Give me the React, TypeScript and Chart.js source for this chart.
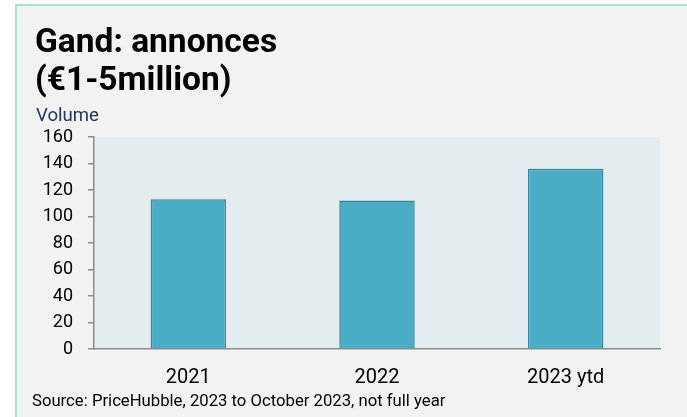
import React, { useEffect, useRef } from "react";
import { Chart, registerables } from "chart.js";

Chart.register(...registerables);

const categories = ["2021", "2022", "2023 ytd"];
const volumes = [113, 112, 136];
const yTicks = [0, 20, 40, 60, 80, 100, 120, 140, 160];
const titleLines = ["Gand: annonces", "(€1-5million)"];
const axisLabel = "Volume";
const sourceText = "Source: PriceHubble, 2023 to October 2023, not full year";

const W = 687;
const H = 417;

const framePlugin = {
  id: "frame",
  beforeDraw(chart: any) {
    const { ctx, chartArea } = chart;
    ctx.save();
    ctx.fillStyle = "#ffffff";
    ctx.fillRect(0, 0, W, H);
    ctx.fillStyle = "#f2f2f2";
    ctx.fillRect(15, 4, W - 15, H - 4);
    ctx.fillStyle = "#a6e0cf";
    ctx.fillRect(15, 4, W - 15, 2);
    ctx.fillRect(15, 4, 2, H - 4);
    ctx.fillStyle = "#e3ecee";
    ctx.fillRect(chartArea.left, chartArea.top, chartArea.right - chartArea.left, chartArea.bottom - chartArea.top);
    ctx.restore();
  },
  afterDraw(chart: any) {
    const { ctx } = chart;
    ctx.save();
    ctx.textAlign = "left";
    ctx.textBaseline = "alphabetic";
    ctx.fillStyle = "#000000";
    ctx.font = "bold 33.5px Roboto";
    (ctx as any).letterSpacing = "0px";
    ctx.fillText(titleLines[0], 35, 52);
    ctx.fillText(titleLines[1], 35, 90);
    ctx.font = "18.6px Roboto";
    ctx.fillStyle = "#1f3864";
    ctx.fillText(axisLabel, 36, 121);
    ctx.font = "16.7px Roboto";
    ctx.fillStyle = "#000000";
    ctx.fillText(sourceText, 32, 406);
    ctx.restore();
  },
};

export default function App() {
  const ref = useRef<HTMLCanvasElement | null>(null);
  useEffect(() => {
    if (!ref.current) return;
    const chart = new Chart(ref.current, {
      type: "bar",
      data: {
        labels: categories,
        datasets: [
          {
            data: volumes,
            backgroundColor: "#4bacc6",
            borderColor: "#37869e",
            borderWidth: 1.5,
            barPercentage: 0.4,
            categoryPercentage: 1,
          },
        ],
      },
      options: {
        responsive: false,
        animation: false,
        devicePixelRatio: 1,
        layout: { padding: { left: 0, top: 137, right: 27, bottom: 0 } },
        plugins: {
          legend: { display: false },
          tooltip: { enabled: false },
          title: { display: false },
        },
        scales: {
          x: {
            grid: { display: false, drawTicks: false },
            border: { display: true, color: "#8c8c8c", width: 1.5 },
            ticks: { color: "#000000", font: { family: "Roboto", size: 20 }, padding: 17 },
            afterFit: (scale: any) => {
              scale.height = 68;
            },
          },
          y: {
            min: 0,
            max: 160,
            afterBuildTicks: (scale: any) => {
              scale.ticks = yTicks.map((v) => ({ value: v }));
            },
            grid: { display: true, drawOnChartArea: false, drawTicks: true, tickLength: 6, color: "#8c8c8c", lineWidth: 1.5 },
            border: { display: true, color: "#8c8c8c", width: 1.5 },
            ticks: { color: "#000000", font: { family: "Roboto", size: 18 }, padding: 15 },
            afterFit: (scale: any) => {
              scale.width = 94;
            },
          },
        },
      },
      plugins: [framePlugin],
    });
    return () => chart.destroy();
  }, []);
  return (
    <div style={{ position: "absolute", left: 0, top: 0, width: W, height: H }}>
      <canvas ref={ref} width={W} height={H} style={{ width: W, height: H, display: "block" }} />
    </div>
  );
}
